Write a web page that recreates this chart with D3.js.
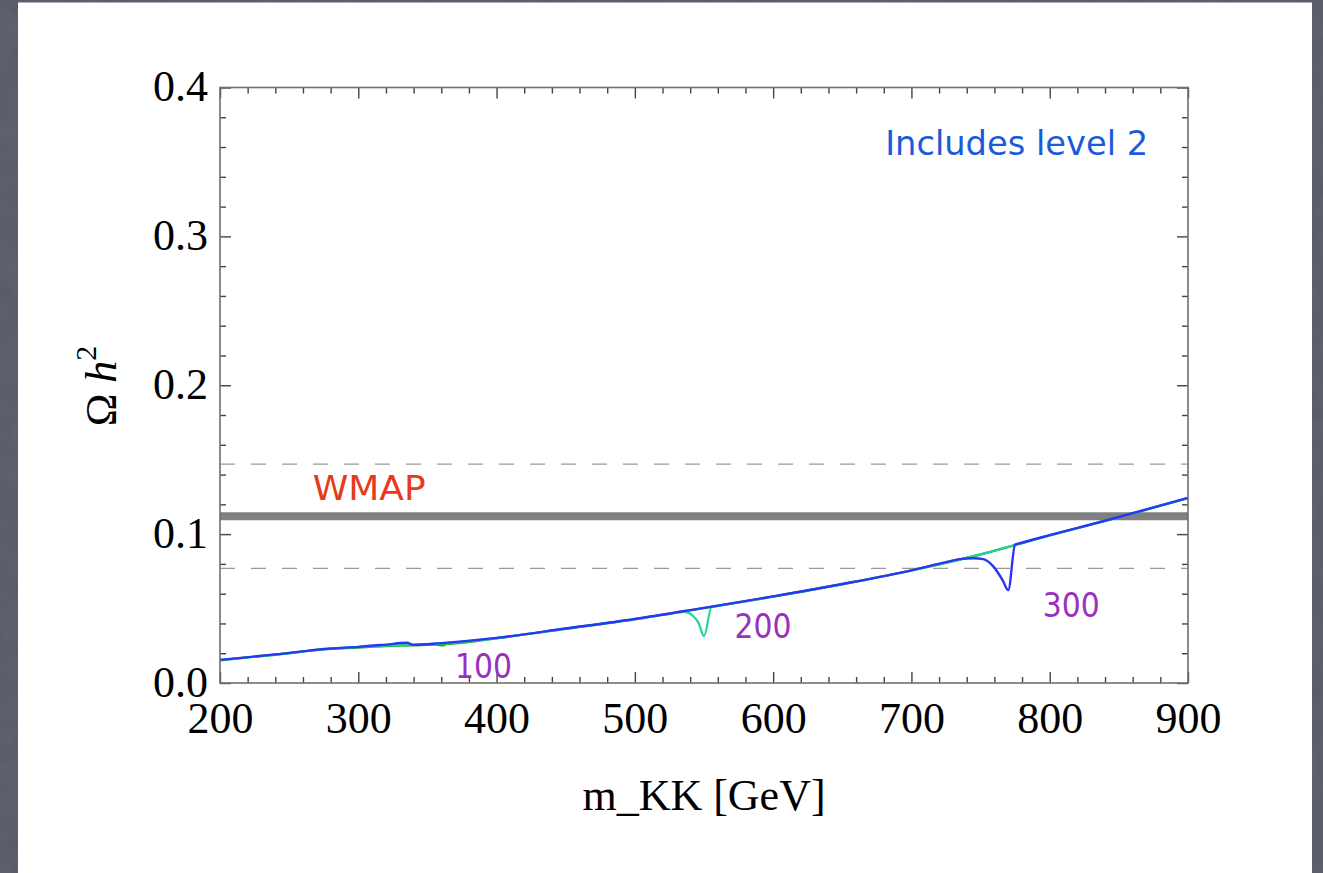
<!DOCTYPE html>
<html>
<head>
<meta charset="utf-8">
<script src="https://cdn.jsdelivr.net/npm/d3@7"></script>
<style>
  html, body { margin: 0; padding: 0; background: #5c606c; }
  svg { display: block; }
</style>
</head>
<body>
<svg id="chart" width="1323" height="873"></svg>
<script>
// Relic density of the lightest KK particle versus compactification mass.

// Mass grid (GeV) and Omega h^2 for the three mass-splitting curves.
const massBlue = [200, 240, 280, 300, 320, 335, 340, 360, 400, 450, 500, 550, 600, 650, 700, 725, 735, 745, 752, 759, 766, 770, 775, 776.5, 800, 850, 900];
const omegaBlue = [0.0155, 0.0192, 0.0232, 0.0243, 0.0258, 0.0270, 0.0256, 0.0268, 0.0303, 0.0366, 0.0430, 0.0505, 0.0582, 0.0665, 0.0757, 0.0812, 0.0832, 0.0838, 0.0832, 0.0785, 0.0690, 0.0624, 0.0930, 0.0934, 0.0993, 0.1115, 0.1244];

const massGreen = [200, 240, 280, 300, 320, 340, 356, 361, 364, 366, 400, 450, 500, 550, 600, 650, 700, 750, 800, 850, 900];
const omegaGreen = [0.0153, 0.0190, 0.0229, 0.0238, 0.0249, 0.0253, 0.0258, 0.0252, 0.0263, 0.0264, 0.0301, 0.0364, 0.0428, 0.0503, 0.0580, 0.0663, 0.0756, 0.0863, 0.0991, 0.1113, 0.1242];

const massTeal = [200, 240, 280, 320, 360, 400, 450, 500, 530, 536, 542, 546, 550, 555.5, 557, 600, 650, 700, 750, 800, 850, 900];
const omegaTeal = [0.0154, 0.0191, 0.0230, 0.0252, 0.0266, 0.0302, 0.0365, 0.0429, 0.0472, 0.0478, 0.0452, 0.0405, 0.0315, 0.0512, 0.0514, 0.0581, 0.0664, 0.0756, 0.0864, 0.0992, 0.1114, 0.1243];

// WMAP central value and the band edges.
const wmapCentral = 0.112;
const wmapBand = [0.077, 0.147];

// Axis ticks.
const xMajorTicks = [200, 300, 400, 500, 600, 700, 800, 900];
const yMajorTicks = [0.0, 0.1, 0.2, 0.3, 0.4];
const yTickLabels = ["0.0", "0.1", "0.2", "0.3", "0.4"];

// Curve annotations: [text, mass, omega].
const curveLabels = [["100", 370, 0.0034], ["200", 572, 0.0302], ["300", 795, 0.0443]];

const svg = d3.select("#chart");
const W = 1323, H = 873;

// Slide background with a faint mottled texture
const defs = svg.append("defs");
const tex = defs.append("filter").attr("id", "mottle")
  .attr("x", 0).attr("y", 0).attr("width", "100%").attr("height", "100%")
  .attr("color-interpolation-filters", "sRGB");
tex.append("feTurbulence").attr("type", "fractalNoise").attr("baseFrequency", 0.05).attr("numOctaves", 2).attr("seed", 3).attr("result", "noise");
tex.append("feColorMatrix").attr("in", "noise").attr("type", "matrix")
  .attr("values", "0 0 0 0 0.42  0 0 0 0 0.44  0 0 0 0 0.49  0.45 0 0 0 0")
  .attr("result", "tint");
tex.append("feComposite").attr("in", "tint").attr("in2", "SourceGraphic").attr("operator", "over");

svg.append("rect").attr("x", 0).attr("y", 0).attr("width", W).attr("height", H).attr("fill", "#565a66").attr("filter", "url(#mottle)");
svg.append("rect").attr("x", 18).attr("y", 2.5).attr("width", 1294).attr("height", H).attr("fill", "#ffffff");

const plot = { left: 220, right: 1188, top: 87.5, bottom: 683 };
const x = d3.scaleLinear().domain([200, 900]).range([plot.left, plot.right]);
const y = d3.scaleLinear().domain([0, 0.4]).range([plot.bottom, plot.top]);

const xMinor = d3.range(200, 901, 20).filter(v => v % 100 !== 0);
const yMinor = d3.range(0, 21, 1).map(i => i * 0.02).filter((v, i) => i % 5 !== 0);

const g = svg.append("g");

// WMAP band edges
g.selectAll("line.band").data(wmapBand).join("line")
  .attr("class", "band")
  .attr("x1", plot.left).attr("x2", plot.right)
  .attr("y1", d => y(d)).attr("y2", d => y(d))
  .attr("stroke", "#9a9a9a").attr("stroke-width", 1.3)
  .attr("stroke-dasharray", "15,16");

// WMAP central value
g.append("line")
  .attr("x1", plot.left).attr("x2", plot.right)
  .attr("y1", y(wmapCentral)).attr("y2", y(wmapCentral))
  .attr("stroke", "#808080").attr("stroke-width", 8);

// Relic density curves
const line = d3.line().x(d => x(d[0])).y(d => y(d[1])).curve(d3.curveMonotoneX);
const series = [
  { m: massGreen, o: omegaGreen, color: "#1cb51c", w: 2.4 },
  { m: massTeal, o: omegaTeal, color: "#22d39c", w: 2.2 },
  { m: massBlue, o: omegaBlue, color: "#2b35f5", w: 2.4 }
];
series.forEach(s => {
  g.append("path")
    .datum(d3.zip(s.m, s.o))
    .attr("d", line)
    .attr("fill", "none")
    .attr("stroke", s.color)
    .attr("stroke-width", s.w)
    .attr("stroke-linejoin", "round");
});

// Frame axes with inward ticks on all four sides
const tickColor = "#444";
function styleAxis(sel) {
  sel.select(".domain").remove();
  sel.selectAll(".tick line").attr("stroke", tickColor).attr("stroke-width", 1.4);
}

const serif = "'Liberation Serif', 'Times New Roman', serif";

// bottom
const bottomAxis = svg.append("g").attr("transform", `translate(0,${plot.bottom})`)
  .call(d3.axisBottom(x).tickValues(xMajorTicks).tickSize(-11).tickFormat(d3.format("d")));
styleAxis(bottomAxis);
bottomAxis.selectAll("text")
  .attr("y", 50).attr("dy", null)
  .attr("font-family", serif).attr("font-size", 44).attr("fill", "#000");
svg.append("g").attr("transform", `translate(0,${plot.bottom})`)
  .call(d3.axisBottom(x).tickValues(xMinor).tickSize(-6).tickFormat(""))
  .call(styleAxis);

// top
svg.append("g").attr("transform", `translate(0,${plot.top})`)
  .call(d3.axisTop(x).tickValues(xMajorTicks).tickSize(-11).tickFormat(""))
  .call(styleAxis);
svg.append("g").attr("transform", `translate(0,${plot.top})`)
  .call(d3.axisTop(x).tickValues(xMinor).tickSize(-6).tickFormat(""))
  .call(styleAxis);

// left
const leftAxis = svg.append("g").attr("transform", `translate(${plot.left},0)`)
  .call(d3.axisLeft(y).tickValues(yMajorTicks).tickSize(-11).tickFormat((d, i) => yTickLabels[i]));
styleAxis(leftAxis);
leftAxis.selectAll("text")
  .attr("x", -12).attr("dy", 13)
  .attr("font-family", serif).attr("font-size", 44).attr("fill", "#000");
svg.append("g").attr("transform", `translate(${plot.left},0)`)
  .call(d3.axisLeft(y).tickValues(yMinor).tickSize(-6).tickFormat(""))
  .call(styleAxis);

// right
svg.append("g").attr("transform", `translate(${plot.right},0)`)
  .call(d3.axisRight(y).tickValues(yMajorTicks).tickSize(-11).tickFormat(""))
  .call(styleAxis);
svg.append("g").attr("transform", `translate(${plot.right},0)`)
  .call(d3.axisRight(y).tickValues(yMinor).tickSize(-6).tickFormat(""))
  .call(styleAxis);

// frame
svg.append("rect")
  .attr("x", plot.left).attr("y", plot.top)
  .attr("width", plot.right - plot.left).attr("height", plot.bottom - plot.top)
  .attr("fill", "none").attr("stroke", "#6e6e6e").attr("stroke-width", 1.6);

// Axis titles
svg.append("text")
  .attr("x", 704).attr("y", 810)
  .attr("text-anchor", "middle")
  .attr("font-family", serif).attr("font-size", 44).attr("fill", "#000")
  .text("m_KK [GeV]");

const yTitle = svg.append("text")
  .attr("transform", "translate(116,386) rotate(-90)")
  .attr("text-anchor", "middle")
  .attr("font-family", serif).attr("font-size", 44).attr("fill", "#000");
yTitle.append("tspan").text("\u03A9 ");
yTitle.append("tspan").attr("font-style", "italic").text("h");
yTitle.append("tspan").attr("font-size", 30).attr("dy", -20).text("2");

// Annotations
const hand = "'DejaVu Sans', 'Noto Sans', sans-serif";
svg.selectAll("text.curve-label").data(curveLabels).join("text")
  .attr("class", "curve-label")
  .attr("x", d => x(d[1])).attr("y", d => y(d[2]))
  .attr("font-family", hand).attr("font-size", 34).attr("fill", "#9b30bf")
  .attr("textLength", 57).attr("lengthAdjust", "spacingAndGlyphs")
  .text(d => d[0]);

svg.append("text")
  .attr("x", x(267)).attr("y", y(0.1228))
  .attr("font-family", hand).attr("font-size", 34).attr("fill", "#e63a1c")
  .attr("textLength", 113).attr("lengthAdjust", "spacingAndGlyphs")
  .text("WMAP");

svg.append("text")
  .attr("x", x(681)).attr("y", y(0.3544))
  .attr("font-family", hand).attr("font-size", 33).attr("fill", "#1b5ad9")
  .attr("textLength", 263).attr("lengthAdjust", "spacingAndGlyphs")
  .text("Includes level 2");
</script>
</body>
</html>
